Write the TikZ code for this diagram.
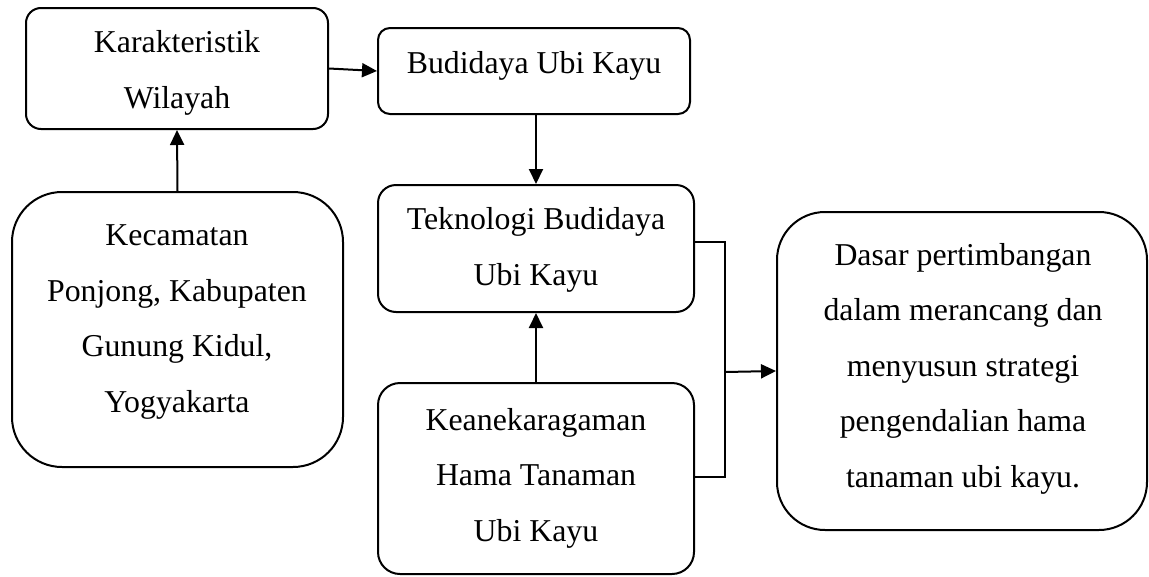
\documentclass[tikz,border=0pt]{standalone}
\usepackage{fontspec}
\setmainfont{Liberation Serif}
\usetikzlibrary{arrows.meta}
\begin{document}
\begin{tikzpicture}[x=1pt,y=-1pt,
  box/.style={draw, line width=2pt, inner sep=0pt},
  txt/.style={align=center, font=\fontsize{31.8}{55.5}\selectfont, inner sep=0pt, anchor=base},
  conn/.style={line width=2pt},
  arr/.style={conn, -{Triangle[length=15pt,width=14pt]}}]
\useasboundingbox (0,0) rectangle (1149,576);
\node[box, rounded corners=15pt, minimum width=302pt, minimum height=121pt] (kar) at (177,68.5) {};
\node[box, rounded corners=12pt, minimum width=312pt, minimum height=86pt] (bud) at (534,71) {};
\node[box, rounded corners=50pt, minimum width=331pt, minimum height=275pt] (kec) at (177.5,329.5) {};
\node[box, rounded corners=18pt, minimum width=316pt, minimum height=127pt] (tek) at (536,248.5) {};
\node[box, rounded corners=22pt, minimum width=316pt, minimum height=191pt] (kea) at (536,478.5) {};
\node[box, rounded corners=48pt, minimum width=370pt, minimum height=318pt] (das) at (962,371) {};
\node[txt] (karT) at (177,108) {Karakteristik\\Wilayah};
\node[txt] (budT) at (534,73) {Budidaya Ubi Kayu};
\node[txt] (kecT) at (177,412) {Kecamatan\\Ponjong, Kabupaten\\Gunung Kidul,\\Yogyakarta};
\node[txt] (tekT) at (536,285) {Teknologi Budidaya\\Ubi Kayu};
\node[txt] (keaT) at (536,541) {Keanekaragaman\\Hama Tanaman\\Ubi Kayu};
\node[txt] (dasT) at (963,487) {Dasar pertimbangan\\dalam merancang dan\\menyusun strategi\\pengendalian hama\\tanaman ubi kayu.};
\coordinate (j) at (725,372);
\draw[arr] (kar.east) -- (bud.west);
\draw[arr] (tek.north |- bud.south) -- (tek.north);
\draw[arr] (kec.north) -- (kar.south);
\draw[arr] (kea.north) -- (tek.south);
\draw[conn] (tek.east |- 0,242) -| (j |- 0,477) -- (kea.east |- 0,477);
\draw[arr] (j) -- (das.west);
\end{tikzpicture}
\end{document}
